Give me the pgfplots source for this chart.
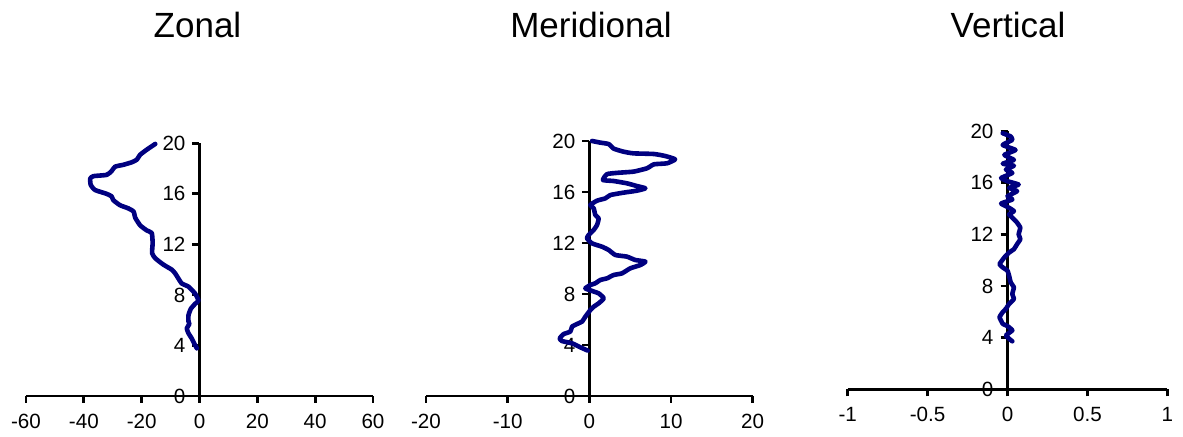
\documentclass[border=0pt]{standalone}
\usepackage{fontspec}
\setmainfont{Liberation Sans}
\usepackage{pgfplots}
\pgfplotsset{compat=1.18}
\definecolor{navyline}{RGB}{0,0,128}
\pgfplotsset{
  prof/.style={
    scale only axis,
    axis x line=bottom,
    axis y line=center,
    axis line style={-, line width=1.4pt, black},
    tick style={line width=1.4pt, black},
    major tick length=3.5pt,
    tick align=outside,
    ymin=0, ymax=20,
    ytick={0,4,8,12,16,20},
    hide obscured x ticks=false,
    hide obscured y ticks=false,
    ticklabel style={font=\fontsize{10.3}{12}\selectfont},
    xticklabel style={yshift=-2pt},
    /pgf/number format/assume math mode=true,
    clip=false,
    anchor=south west,
  },
  curve/.style={navyline, line width=2.3pt, line join=round, line cap=round, smooth, tension=0.3},
}
\begin{document}
\begin{tikzpicture}
\useasboundingbox (0,0) rectangle (591.5pt,218.5pt);
\node[font=\fontsize{17.5}{20}\selectfont] at (98.75pt,206pt) {Zonal};
\node[font=\fontsize{17.5}{20}\selectfont] at (295.5pt,206pt) {Meridional};
\node[font=\fontsize{17.5}{20}\selectfont] at (504pt,206pt) {Vertical};

\begin{axis}[prof, at={(13pt,20.5pt)}, width=173.5pt, height=126.35pt,
  xmin=-60, xmax=60, xtick={-60,-40,-20,0,20,40,60}]
\addplot[curve] coordinates {
(-15.3,19.95) (-18.2,19.5) (-20.5,19.1) (-21.7,18.7) (-23.4,18.5) (-26.3,18.3)
(-29.2,18.15) (-30.4,17.8) (-32.1,17.5) (-36.7,17.4) (-37.8,17.2) (-37.6,16.7)
(-36.1,16.3) (-32.1,16.0) (-30.4,15.8) (-29.8,15.5) (-27.5,15.1) (-24.6,14.85)
(-22.8,14.6) (-22.2,14.1) (-20.5,13.5) (-18.2,13.1) (-16.5,12.9) (-16.2,12.1)
(-16.4,11.3) (-15.3,10.9) (-12.5,10.4) (-9.6,10.0) (-8.4,9.7) (-7.3,9.3)
(-6.1,8.9) (-3.8,8.65) (-1.5,8.1) (-0.35,7.55) (-1.5,7.3) (-3.0,6.9)
(-3.8,6.4) (-3.8,5.9) (-3.5,5.7) (-4.4,5.35) (-3.8,4.96) (-2.7,4.56)
(-1.85,4.17) (-0.9,3.77)
};
\end{axis}

\begin{axis}[prof, at={(213pt,20.5pt)}, width=163.35pt, height=127.5pt,
  xmin=-20, xmax=20, xtick={-20,-10,0,10,20}]
\addplot[curve] coordinates {
(0.33,20.0) (1.35,19.87) (2.37,19.76) (2.98,19.4) (4.2,19.16) (5.4,19.03)
(7.9,18.98) (9.3,18.82) (10.5,18.56) (9.5,18.25) (7.9,18.17) (7.06,17.86)
(5.43,17.6) (3.4,17.5) (2.16,17.4) (1.67,16.94) (2.98,16.86) (4.6,16.68)
(5.8,16.47) (6.86,16.29) (5.8,16.1) (4.2,15.95) (2.57,15.76) (1.96,15.5)
(0.94,15.32) (0.12,14.98) (0.53,14.72) (0.73,14.2) (1.14,13.93) (0.94,13.41)
(0.53,13.02) (-0.08,12.63) (-0.29,12.37) (0.33,11.97) (1.55,11.71) (2.37,11.45)
(3.18,11.06) (4.6,10.93) (5.6,10.67) (6.86,10.54) (6.24,10.27) (5.0,10.01)
(4.0,9.62) (2.98,9.49) (2.16,9.23) (1.35,9.1) (0.73,8.84) (0.12,8.7)
(-0.49,8.44) (0.33,8.24) (1.14,8.05) (1.76,7.66) (1.14,7.27) (0.53,7.0)
(0.12,6.74) (-0.49,6.22) (-0.9,5.83) (-1.5,5.65) (-2.12,5.44) (-2.33,5.05)
(-3.14,4.86) (-3.63,4.52) (-3.35,4.31) (-2.12,4.13) (-1.1,3.82) (-0.2,3.56)
};
\end{axis}

\begin{axis}[prof, at={(423.85pt,23.85pt)}, width=159.8pt, height=129pt,
  xmin=-1, xmax=1, xtick={-1,-0.5,0,0.5,1}]
\addplot[curve, tension=0.2] coordinates {
(-0.03,19.85) (0.02,19.6) (0.03,19.33) (-0.03,18.94) (0.05,18.55) (-0.02,18.17)
(0.04,17.78) (-0.03,17.49) (0.04,17.33) (-0.01,17.03) (0.03,16.77) (-0.04,16.38)
(0.0,16.13) (0.07,15.87) (0.01,15.61) (0.06,15.36) (0.0,14.97) (0.03,14.71)
(-0.04,14.4) (0.01,14.07) (0.04,13.81) (0.01,13.56) (0.03,13.3) (0.06,12.92)
(0.08,12.53) (0.07,12.02) (0.08,11.63) (0.06,11.25) (0.04,10.86) (0.01,10.6)
(-0.02,10.22) (-0.05,9.7) (-0.03,9.45) (0.0,9.19) (0.01,8.8) (0.02,8.29)
(0.04,7.9) (0.03,7.39) (0.04,7.0) (0.01,6.62) (-0.01,6.24) (-0.03,5.98)
(-0.05,5.59) (-0.03,5.08) (0.0,4.9) (0.03,4.57) (-0.01,4.18) (0.01,3.92) (0.03,3.72)
};
\end{axis}
\end{tikzpicture}
\end{document}
